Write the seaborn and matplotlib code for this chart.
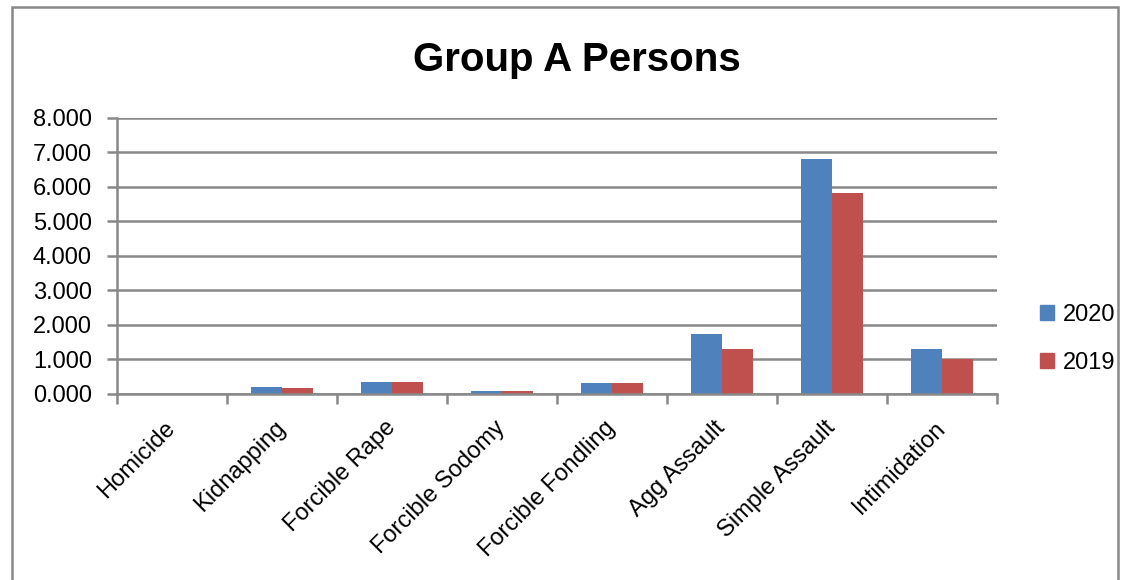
import matplotlib
matplotlib.use("Agg")
import matplotlib.pyplot as plt
import seaborn as sns
import pandas as pd
import numpy as np
from matplotlib.patches import Rectangle
from matplotlib.ticker import FixedLocator, FuncFormatter

categories = ["Homicide", "Kidnapping", "Forcible Rape", "Forcible Sodomy",
              "Forcible Fondling", "Agg Assault", "Simple Assault", "Intimidation"]
values_2020 = [0.005, 0.19, 0.35, 0.09, 0.31, 1.73, 6.80, 1.31]
values_2019 = [0.005, 0.16, 0.35, 0.09, 0.31, 1.31, 5.83, 1.01]
series = ["2020", "2019"]
yticks = [0, 1, 2, 3, 4, 5, 6, 7, 8]
title = "Group A Persons"

df = pd.DataFrame({
    "category": categories * 2,
    "value": values_2020 + values_2019,
    "year": [series[0]] * len(categories) + [series[1]] * len(categories),
})

sns.set_style("white")
plt.rcParams["font.family"] = ["Liberation Sans", "DejaVu Sans"]
plt.rcParams["text.color"] = "black"
plt.rcParams["xtick.color"] = "black"
plt.rcParams["ytick.color"] = "black"

fig = plt.figure(figsize=(11.24, 5.8), dpi=100)
ax = fig.add_axes([0.104, 0.3207, 0.783, 0.476])

palette = {"2020": "#4F81BD", "2019": "#C0504D"}
sns.barplot(data=df, x="category", y="value", hue="year", hue_order=series,
            palette=palette, width=0.57, saturation=1, ax=ax, legend=False,
            edgecolor="none")

ax.set_ylim(0, 8)
ax.set_xlim(-0.5, len(categories) - 0.5)
ax.yaxis.set_major_locator(FixedLocator(yticks))
ax.yaxis.set_major_formatter(FuncFormatter(lambda v, p: f"{v:.3f}"))
ax.grid(axis="y", color="#888888", linewidth=1.8)
ax.set_axisbelow(True)
for s in ["top", "right"]:
    ax.spines[s].set_visible(False)
for s in ["left", "bottom"]:
    ax.spines[s].set_color("#888888")
    ax.spines[s].set_linewidth(1.8)

ax.tick_params(axis="y", which="major", length=7, width=1.8, color="#888888",
               labelsize=17, labelcolor="black", pad=11, left=True)
ax.set_xticks(range(len(categories)))
ax.set_xticklabels(categories, rotation=45, ha="right", va="center",
                   rotation_mode="anchor", fontsize=17, color="black")
ax.tick_params(axis="x", which="major", length=0, pad=22)
ax.set_xticks(np.arange(-0.5, len(categories), 1.0), minor=True)
ax.tick_params(axis="x", which="minor", length=7, width=1.8, color="#888888",
               bottom=True)
ax.set_xlabel("")
ax.set_ylabel("")

fig.text(0.513, 0.897, title, ha="center", va="center", fontsize=29,
         fontweight="bold", color="black")

handles = [Rectangle((0, 0), 1, 1, color=palette[s]) for s in series]
fig.legend(handles, series, loc="center left", bbox_to_anchor=(0.906, 0.416),
           frameon=False, fontsize=17, handlelength=0.6, handleheight=0.6,
           labelspacing=1.1, handletextpad=0.4)

fig.patches.append(Rectangle((0.011, -0.02), 0.984, 1.008, transform=fig.transFigure,
                             fill=False, edgecolor="#888888", linewidth=1.8))

fig.savefig("out.png", dpi=100, facecolor="white")
